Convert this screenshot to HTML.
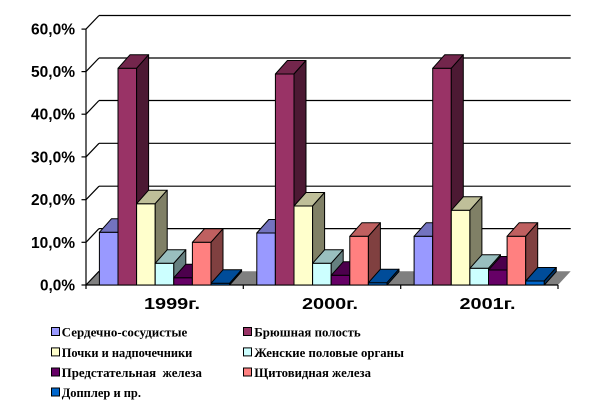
<!DOCTYPE html>
<html><head><meta charset="utf-8"><style>
html,body{margin:0;padding:0;background:#fff;}
svg{display:block;}
.yl{font-family:"Liberation Sans",Arial,sans-serif;font-weight:bold;font-size:15.5px;fill:#000;}
.cl{font-family:"Liberation Sans",Arial,sans-serif;font-weight:bold;font-size:16px;fill:#000;}
.lg{font-family:"Liberation Serif","Noto Serif CJK SC",serif;font-weight:bold;font-size:12.5px;fill:#000;}
</style></head><body>
<svg width="600" height="407" viewBox="0 0 600 407" xmlns="http://www.w3.org/2000/svg">
<rect width="600" height="407" fill="#fff"/>
<!-- floor -->
<polygon points="86,285 558,285 570.7,271.3 99,271.3" fill="#808080"/>
<!-- back wall gridlines -->
<g stroke="#000" stroke-width="1.2" fill="none">
<line x1="99" y1="15.5" x2="570.7" y2="15.5"/>
<line x1="99" y1="58" x2="570.7" y2="58"/>
<line x1="99" y1="100.5" x2="570.7" y2="100.5"/>
<line x1="99" y1="143.3" x2="570.7" y2="143.3"/>
<line x1="99" y1="186.2" x2="570.7" y2="186.2"/>
<line x1="99" y1="228.6" x2="570.7" y2="228.6"/>
<line x1="86" y1="29.1" x2="99" y2="15.5"/>
<line x1="86" y1="71.6" x2="99" y2="58"/>
<line x1="86" y1="114.2" x2="99" y2="100.5"/>
<line x1="86" y1="156.9" x2="99" y2="143.3"/>
<line x1="86" y1="199.7" x2="99" y2="186.2"/>
<line x1="86" y1="242.3" x2="99" y2="228.6"/>
<line x1="86" y1="285" x2="99" y2="271.3"/>
<line x1="86" y1="29.1" x2="86" y2="285"/>
<line x1="81.5" y1="29.1" x2="86" y2="29.1"/>
<line x1="81.5" y1="71.6" x2="86" y2="71.6"/>
<line x1="81.5" y1="114.2" x2="86" y2="114.2"/>
<line x1="81.5" y1="156.9" x2="86" y2="156.9"/>
<line x1="81.5" y1="199.7" x2="86" y2="199.7"/>
<line x1="81.5" y1="242.3" x2="86" y2="242.3"/>
<line x1="81.5" y1="285" x2="86" y2="285"/>
<line x1="86" y1="285" x2="558" y2="285"/>
<line x1="86" y1="285" x2="86" y2="289"/>
<line x1="243.3" y1="285" x2="243.3" y2="289"/>
<line x1="400.7" y1="285" x2="400.7" y2="289"/>
<line x1="558" y1="285" x2="558" y2="289"/>
</g>
<!-- bars -->
<g stroke="#000" stroke-width="1" stroke-linejoin="round">
<!-- group 1 -->
<rect x="99.4" y="232.3" width="18.6" height="52.7" fill="#9999FF"/>
<polygon points="99.4,232.3 118,232.3 130,218.8 111.4,218.8" fill="#7373BF"/>
<polygon points="118,232.3 130,218.8 130,271.5 118,285" fill="#4C4C80"/>
<rect x="118" y="68.3" width="18.6" height="216.7" fill="#993366"/>
<polygon points="118,68.3 136.6,68.3 148.6,54.8 130,54.8" fill="#73264C"/>
<polygon points="136.6,68.3 148.6,54.8 148.6,271.5 136.6,285" fill="#4C1933"/>
<rect x="136.6" y="203.7" width="18.6" height="81.3" fill="#FFFFCC"/>
<polygon points="136.6,203.7 155.2,203.7 167.2,190.2 148.6,190.2" fill="#BFBF99"/>
<polygon points="155.2,203.7 167.2,190.2 167.2,271.5 155.2,285" fill="#808066"/>
<rect x="155.2" y="263.3" width="18.6" height="21.7" fill="#CCFFFF"/>
<polygon points="155.2,263.3 173.8,263.3 185.8,249.8 167.2,249.8" fill="#99BFBF"/>
<polygon points="173.8,263.3 185.8,249.8 185.8,271.5 173.8,285" fill="#668080"/>
<rect x="173.8" y="277.7" width="18.6" height="7.3" fill="#660066"/>
<polygon points="173.8,277.7 192.4,277.7 204.4,264.2 185.8,264.2" fill="#4C004C"/>
<polygon points="192.4,277.7 204.4,264.2 204.4,271.5 192.4,285" fill="#330033"/>
<rect x="192.4" y="242.3" width="18.6" height="42.7" fill="#FF8080"/>
<polygon points="192.4,242.3 211,242.3 223,228.8 204.4,228.8" fill="#BF6060"/>
<polygon points="211,242.3 223,228.8 223,271.5 211,285" fill="#804040"/>
<rect x="211" y="283.3" width="18.6" height="1.7" fill="#0066CC"/>
<polygon points="211,283.3 229.6,283.3 241.6,269.8 223,269.8" fill="#004C99"/>
<polygon points="229.6,283.3 241.6,269.8 241.6,271.5 229.6,285" fill="#003366"/>
<!-- group 2 -->
<rect x="256.8" y="233" width="18.6" height="52" fill="#9999FF"/>
<polygon points="256.8,233 275.4,233 287.4,219.5 268.8,219.5" fill="#7373BF"/>
<polygon points="275.4,233 287.4,219.5 287.4,271.5 275.4,285" fill="#4C4C80"/>
<rect x="275.4" y="74" width="18.6" height="211" fill="#993366"/>
<polygon points="275.4,74 294,74 306,60.5 287.4,60.5" fill="#73264C"/>
<polygon points="294,74 306,60.5 306,271.5 294,285" fill="#4C1933"/>
<rect x="294" y="206" width="18.6" height="79" fill="#FFFFCC"/>
<polygon points="294,206 312.6,206 324.6,192.5 306,192.5" fill="#BFBF99"/>
<polygon points="312.6,206 324.6,192.5 324.6,271.5 312.6,285" fill="#808066"/>
<rect x="312.6" y="263.3" width="18.6" height="21.7" fill="#CCFFFF"/>
<polygon points="312.6,263.3 331.2,263.3 343.2,249.8 324.6,249.8" fill="#99BFBF"/>
<polygon points="331.2,263.3 343.2,249.8 343.2,271.5 331.2,285" fill="#668080"/>
<rect x="331.2" y="275.3" width="18.6" height="9.7" fill="#660066"/>
<polygon points="331.2,275.3 349.8,275.3 361.8,261.8 343.2,261.8" fill="#4C004C"/>
<polygon points="349.8,275.3 361.8,261.8 361.8,271.5 349.8,285" fill="#330033"/>
<rect x="349.8" y="236.3" width="18.6" height="48.7" fill="#FF8080"/>
<polygon points="349.8,236.3 368.4,236.3 380.4,222.8 361.8,222.8" fill="#BF6060"/>
<polygon points="368.4,236.3 380.4,222.8 380.4,271.5 368.4,285" fill="#804040"/>
<rect x="368.4" y="282.7" width="18.6" height="2.3" fill="#0066CC"/>
<polygon points="368.4,282.7 387,282.7 399,269.2 380.4,269.2" fill="#004C99"/>
<polygon points="387,282.7 399,269.2 399,271.5 387,285" fill="#003366"/>
<!-- group 3 -->
<rect x="414.1" y="236.3" width="18.6" height="48.7" fill="#9999FF"/>
<polygon points="414.1,236.3 432.7,236.3 444.7,222.8 426.1,222.8" fill="#7373BF"/>
<polygon points="432.7,236.3 444.7,222.8 444.7,271.5 432.7,285" fill="#4C4C80"/>
<rect x="432.7" y="68.3" width="18.6" height="216.7" fill="#993366"/>
<polygon points="432.7,68.3 451.3,68.3 463.3,54.8 444.7,54.8" fill="#73264C"/>
<polygon points="451.3,68.3 463.3,54.8 463.3,271.5 451.3,285" fill="#4C1933"/>
<rect x="451.3" y="210.3" width="18.6" height="74.7" fill="#FFFFCC"/>
<polygon points="451.3,210.3 469.9,210.3 481.9,196.8 463.3,196.8" fill="#BFBF99"/>
<polygon points="469.9,210.3 481.9,196.8 481.9,271.5 469.9,285" fill="#808066"/>
<rect x="469.9" y="268.3" width="18.6" height="16.7" fill="#CCFFFF"/>
<polygon points="469.9,268.3 488.5,268.3 500.5,254.8 481.9,254.8" fill="#99BFBF"/>
<polygon points="488.5,268.3 500.5,254.8 500.5,271.5 488.5,285" fill="#668080"/>
<rect x="488.5" y="270" width="18.6" height="15" fill="#660066"/>
<polygon points="488.5,270 507.1,270 519.1,256.5 500.5,256.5" fill="#4C004C"/>
<polygon points="507.1,270 519.1,256.5 519.1,271.5 507.1,285" fill="#330033"/>
<rect x="507.1" y="236.3" width="18.6" height="48.7" fill="#FF8080"/>
<polygon points="507.1,236.3 525.7,236.3 537.7,222.8 519.1,222.8" fill="#BF6060"/>
<polygon points="525.7,236.3 537.7,222.8 537.7,271.5 525.7,285" fill="#804040"/>
<rect x="525.7" y="281" width="18.6" height="4" fill="#0066CC"/>
<polygon points="525.7,281 544.3,281 556.3,267.5 537.7,267.5" fill="#004C99"/>
<polygon points="544.3,281 556.3,267.5 556.3,271.5 544.3,285" fill="#003366"/>
</g>
<!-- y labels -->
<g class="yl">
<text x="31" y="34.6" textLength="44" lengthAdjust="spacingAndGlyphs">60,0%</text>
<text x="31" y="77.1" textLength="44" lengthAdjust="spacingAndGlyphs">50,0%</text>
<text x="31" y="119.7" textLength="44" lengthAdjust="spacingAndGlyphs">40,0%</text>
<text x="31" y="162.4" textLength="44" lengthAdjust="spacingAndGlyphs">30,0%</text>
<text x="31" y="205.2" textLength="44" lengthAdjust="spacingAndGlyphs">20,0%</text>
<text x="31" y="247.8" textLength="44" lengthAdjust="spacingAndGlyphs">10,0%</text>
<text x="40" y="290.5" textLength="35" lengthAdjust="spacingAndGlyphs">0,0%</text>
</g>
<!-- category labels -->
<g class="cl">
<text x="144" y="309" textLength="56" lengthAdjust="spacingAndGlyphs">1999г.</text>
<text x="302" y="309" textLength="56" lengthAdjust="spacingAndGlyphs">2000г.</text>
<text x="459.5" y="309" textLength="56" lengthAdjust="spacingAndGlyphs">2001г.</text>
</g>
<!-- legend -->
<g stroke="#000" stroke-width="1">
<rect x="51.5" y="327.5" width="8" height="8" fill="#9999FF"/>
<rect x="243.5" y="327.5" width="8" height="8" fill="#993366"/>
<rect x="51.5" y="347.9" width="8" height="8" fill="#FFFFCC"/>
<rect x="243.5" y="347.9" width="8" height="8" fill="#CCFFFF"/>
<rect x="51.5" y="368" width="8" height="8" fill="#660066"/>
<rect x="243.5" y="368" width="8" height="8" fill="#FF8080"/>
<rect x="51.5" y="388" width="8" height="8" fill="#0066CC"/>
</g>
<g class="lg">
<text x="61.7" y="336.5" textLength="125.6" lengthAdjust="spacingAndGlyphs">Сердечно-сосудистые</text>
<text x="254.3" y="336.5" textLength="106.4" lengthAdjust="spacingAndGlyphs">Брюшная полость</text>
<text x="61.7" y="356.8" textLength="130.6" lengthAdjust="spacingAndGlyphs">Почки и надпочечники</text>
<text x="254.3" y="356.8" textLength="149.7" lengthAdjust="spacingAndGlyphs">Женские половые органы</text>
<text x="61.7" y="376.9" textLength="140.3" lengthAdjust="spacingAndGlyphs" xml:space="preserve">Предстательная  железа</text>
<text x="254.3" y="376.9" textLength="116.7" lengthAdjust="spacingAndGlyphs">Щитовидная железа</text>
<text x="61.7" y="396.9" textLength="79.3" lengthAdjust="spacingAndGlyphs">Допплер и пр.</text>
</g>
</svg>
</body></html>
